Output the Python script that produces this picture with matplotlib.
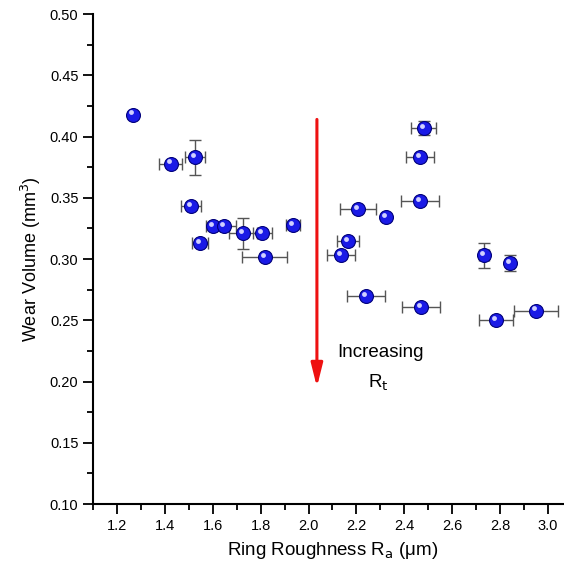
import matplotlib.pyplot as plt
import matplotlib.transforms as mtransforms
from matplotlib.ticker import MultipleLocator

plt.rcParams['font.family'] = ['Liberation Sans', 'DejaVu Sans']

ra = [1.267, 1.425, 1.526, 1.509, 1.547, 1.600, 1.647, 1.726, 1.806, 1.818, 1.935,
      2.482, 2.466, 2.466, 2.207, 2.324, 2.165, 2.136, 2.240, 2.470, 2.733, 2.842, 2.783, 2.950]
wear = [0.418, 0.378, 0.383, 0.343, 0.313, 0.327, 0.327, 0.321, 0.321, 0.302, 0.328,
        0.407, 0.383, 0.347, 0.341, 0.334, 0.315, 0.303, 0.270, 0.261, 0.303, 0.297, 0.250, 0.258]
ra_err = [0.01, 0.048, 0.042, 0.042, 0.035, 0.03, 0.05, 0.058, 0.04, 0.094, 0.03,
          0.052, 0.06, 0.08, 0.075, 0.0, 0.046, 0.058, 0.08, 0.08, 0.02, 0.015, 0.07, 0.092]
wear_err = [0.002, 0.0, 0.014, 0.0, 0.0, 0.0, 0.0, 0.0127, 0.0, 0.0, 0.002,
            0.006, 0.0, 0.0, 0.0, 0.0, 0.0, 0.0, 0.0, 0.0, 0.010, 0.0065, 0.0, 0.0]

fig = plt.figure(figsize=(5.64, 5.71), dpi=100)
ax = fig.add_axes([0.165, 0.1173, 0.849, 0.858])

ax.errorbar(ra, wear, xerr=ra_err, yerr=wear_err, fmt='none', ecolor='#555555',
            elinewidth=1.0, capsize=4, capthick=1.0, zorder=2)
ax.plot(ra, wear, 'o', ms=10, mfc='#1a1ae6', mec='#00007a', mew=0.8, zorder=3)
# little highlight so the markers look like the shaded spheres
hl = mtransforms.offset_copy(ax.transData, fig=fig, x=-1.5, y=1.5, units='points')
ax.plot(ra, wear, 'o', ms=3.5, mfc='#d0d0ff', mec='none', transform=hl, zorder=4)

ax.annotate('', xy=(2.035, 0.1955), xytext=(2.035, 0.414),
            arrowprops=dict(arrowstyle='-|>,head_length=1.4,head_width=0.35',
                            color='#ee1111', lw=2.2, shrinkA=0, shrinkB=0))
ax.text(2.30, 0.224, 'Increasing', fontsize=13.5, ha='center', va='center')
ax.text(2.29, 0.199, 'R$_\\mathrm{t}$', fontsize=13.5, ha='center', va='center')

ax.set_xlim(1.1, 3.1)
ax.set_ylim(0.10, 0.50)
ax.xaxis.set_major_locator(MultipleLocator(0.2))
ax.xaxis.set_minor_locator(MultipleLocator(0.1))
ax.yaxis.set_major_locator(MultipleLocator(0.05))
ax.yaxis.set_minor_locator(MultipleLocator(0.025))
ax.xaxis.set_major_formatter(plt.FormatStrFormatter('%.1f'))
ax.yaxis.set_major_formatter(plt.FormatStrFormatter('%.2f'))
ax.tick_params(which='major', direction='out', length=7, width=1.3, labelsize=10.5)
ax.tick_params(which='minor', direction='out', length=4, width=1.3)
ax.spines['top'].set_visible(False)
ax.spines['right'].set_visible(False)
ax.spines['left'].set_linewidth(1.5)
ax.spines['bottom'].set_linewidth(1.5)

ax.set_xlabel('Ring Roughness R$_\\mathrm{a}$ (μm)', fontsize=13.5, labelpad=5)
ax.set_ylabel('Wear Volume (mm$^\\mathrm{3}$)', fontsize=13, labelpad=5)

fig.savefig('out.png', dpi=100)
